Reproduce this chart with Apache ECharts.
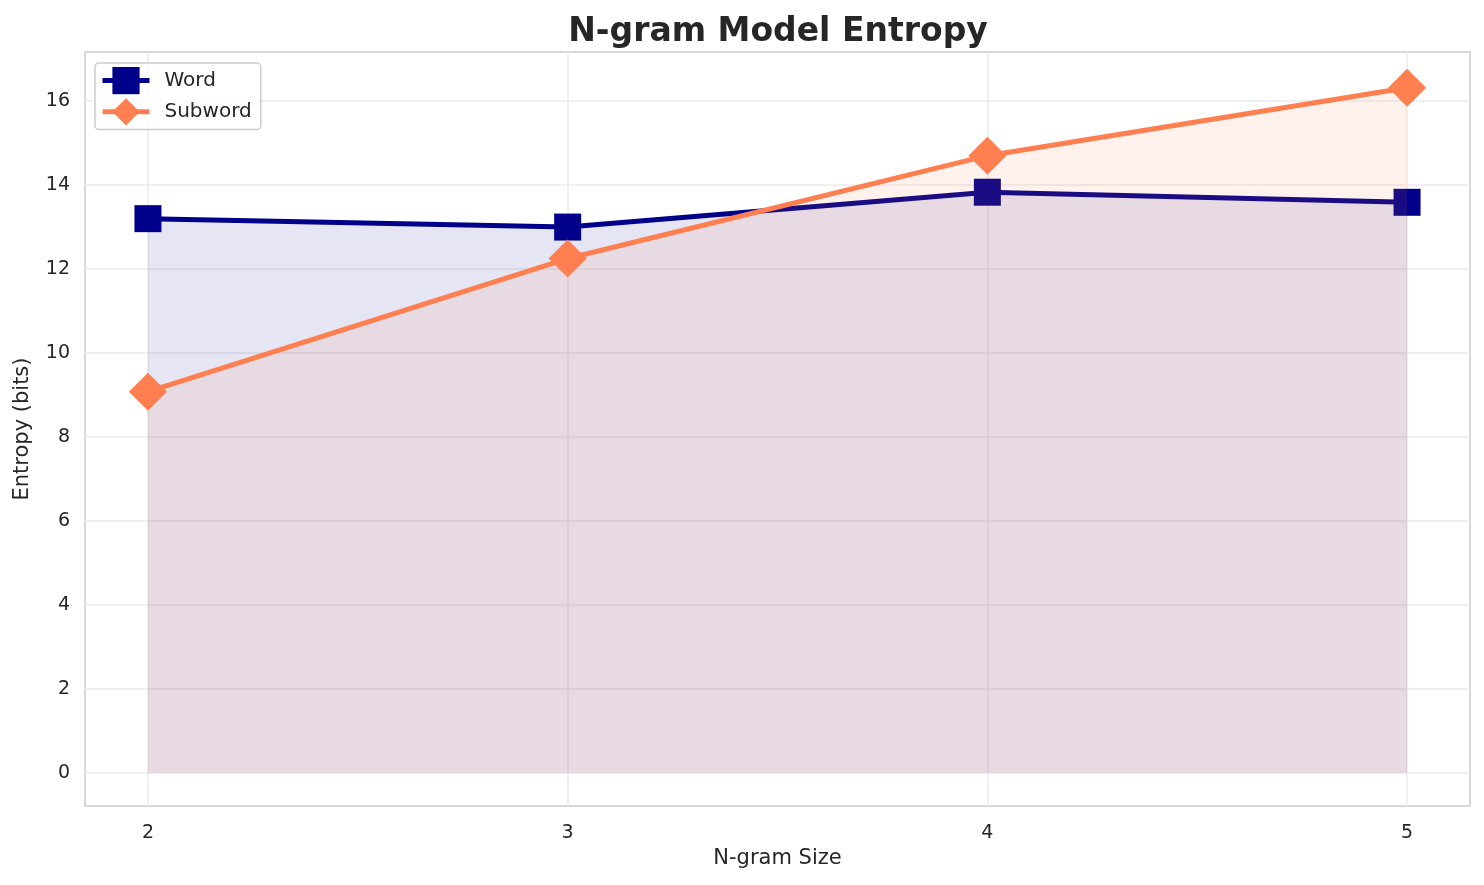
<!DOCTYPE html>
<html lang="en">

<head>
    <meta charset="UTF-8">
    <title>N-gram Model Entropy</title>
    <script src="https://cdn.jsdelivr.net/npm/echarts@6.0.0/dist/echarts.min.js"></script>
    <style>
        html, body {
            margin: 0;
            padding: 0;
            background: #fff;
        }

        #chart {
            width: 1484px;
            height: 885px;
        }
    </style>
</head>

<body>
    <div id="chart"></div>

    <script>
        // data
        var ngramSizes = [2, 3, 4, 5];
        var wordEntropy = [13.2, 13.0, 13.83, 13.59];
        var subwordEntropy = [9.08, 12.25, 14.7, 16.32];
        var xTicks = [2, 3, 4, 5];
        var yTicks = [0, 2, 4, 6, 8, 10, 12, 14, 16];

        var font = 'DejaVu Sans';

        function pairs (xs, ys) {
            var out = [];
            for (var i = 0; i < xs.length; i++) {
                out.push([xs[i], ys[i]]);
            }
            return out;
        }

        var myChart = echarts.init(document.getElementById('chart'), null, { renderer: 'canvas' });

        var option = {
            backgroundColor: '#ffffff',
            animation: false,
            textStyle: { fontFamily: font },
            title: {
                text: 'N-gram Model Entropy',
                left: 773,
                textAlign: 'center',
                top: 11,
                textStyle: {
                    fontFamily: font,
                    fontSize: 33,
                    fontWeight: 'bold',
                    color: '#262626'
                }
            },
            legend: {
                left: 95,
                top: 63,
                orient: 'vertical',
                itemWidth: 47,
                itemHeight: 34,
                itemGap: 4,
                padding: [4, 9, 4, 5],
                backgroundColor: 'rgba(255,255,255,0.8)',
                borderColor: '#cccccc',
                borderWidth: 1.5,
                borderRadius: 4,
                lineStyle: { width: 5 },
                textStyle: { fontFamily: font, fontSize: 20, color: '#262626', padding: [0, 0, 0, 10] },
                data: ['Word', 'Subword']
            },
            grid: {
                left: 85,
                right: 14,
                top: 52,
                bottom: 79,
                outerBoundsMode: 'none',
                show: true,
                borderColor: '#cccccc',
                borderWidth: 1.5
            },
            xAxis: {
                type: 'value',
                min: 1.85,
                max: 5.15,
                name: 'N-gram Size',
                nameLocation: 'middle',
                nameGap: 41,
                nameTextStyle: { fontFamily: font, fontSize: 21, color: '#262626' },
                axisLine: { show: false },
                axisTick: { show: false, customValues: xTicks },
                axisLabel: {
                    customValues: xTicks,
                    margin: 18,
                    fontFamily: font,
                    fontSize: 19,
                    color: '#262626'
                },
                splitLine: { show: true, lineStyle: { color: '#ebebeb', width: 1.5 } }
            },
            yAxis: {
                type: 'value',
                min: -0.79,
                max: 17.17,
                name: 'Entropy (bits)',
                nameLocation: 'middle',
                nameGap: 52,
                nameTextStyle: { fontFamily: font, fontSize: 21, color: '#262626' },
                axisLine: { show: false },
                axisTick: { show: false, customValues: yTicks },
                axisLabel: {
                    customValues: yTicks,
                    margin: 15,
                    fontFamily: font,
                    fontSize: 19,
                    color: '#262626'
                },
                splitLine: { show: true, lineStyle: { color: '#ebebeb', width: 1.5 } }
            },
            series: [{
                name: 'Word',
                type: 'line',
                data: pairs(ngramSizes, wordEntropy),
                symbol: 'rect',
                symbolSize: 27,
                clip: false,
                z: 3,
                itemStyle: { color: '#00008b' },
                lineStyle: { color: '#00008b', width: 5 },
                areaStyle: { color: '#00008b', opacity: 0.1, origin: 0 }
            }, {
                name: 'Subword',
                type: 'line',
                data: pairs(ngramSizes, subwordEntropy),
                symbol: 'diamond',
                symbolSize: 38,
                clip: false,
                z: 4,
                itemStyle: { color: '#ff7f50' },
                lineStyle: { color: '#ff7f50', width: 5 },
                areaStyle: { color: '#ff7f50', opacity: 0.1, origin: 0 }
            }]
        };

        myChart.setOption(option);
    </script>

</body>

</html>
